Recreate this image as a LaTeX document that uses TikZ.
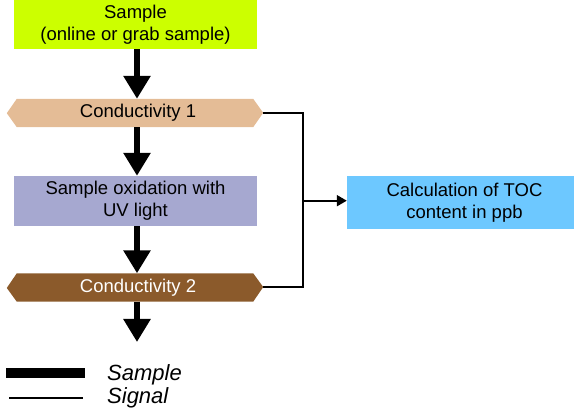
\documentclass[tikz,border=0pt]{standalone}
\usepackage{fontspec}
\setmainfont{Liberation Sans}
\usetikzlibrary{arrows.meta}
\definecolor{limec}{HTML}{CCFF00}
\definecolor{tanc}{HTML}{E4BC96}
\definecolor{lavc}{HTML}{A6A8D0}
\definecolor{brownc}{HTML}{8B5A2B}
\definecolor{skyc}{HTML}{6DC8FF}
\begin{document}
\begin{tikzpicture}[x=1pt,y=-1pt,
  boxst/.style={rectangle,inner sep=0pt,align=center,font=\fontsize{18.5}{22}\selectfont},
  flow/.style={line width=6pt,-{Triangle[width=26pt,length=23pt]}},
  sig/.style={line width=2pt},
  hexst/.style={rectangle,inner sep=0pt,minimum height=28pt,minimum width=236pt,font=\fontsize{18.5}{22}\selectfont},
  legtext/.style={anchor=base west,inner sep=0pt,font=\fontsize{22}{24}\selectfont\itshape}]
\useasboundingbox (0,0) rectangle (574,414);
% nodes
\node[boxst,fill=limec,minimum width=243pt,minimum height=49pt] (s) at (135.5,24.5) {Sample\\(online or grab sample)};
\node[hexst] (c1) at (135,113) {};
\fill[tanc] (c1.north west) -- (c1.north east) -- ++(10,14) -- (c1.south east) -- (c1.south west) -- ++(-10,-14) -- cycle;
\node[hexst,xshift=3pt] at (c1) {Conductivity 1};
\coordinate (c1r) at ([xshift=10pt]c1.east);
\node[boxst,fill=lavc,minimum width=243pt,minimum height=50pt] (uv) at (135.5,201) {Sample oxidation with\\UV light};
\node[hexst] (c2) at (135,287.5) {};
\fill[brownc] (c2.north west) -- (c2.north east) -- ++(10,13.75) -- (c2.south east) -- (c2.south west) -- ++(-10,-13.75) -- cycle;
\node[hexst,text=white,xshift=3pt] at (c2) {Conductivity 2};
\coordinate (c2r) at ([xshift=10pt]c2.east);
\coordinate (out) at (137,342);
\node[rectangle,fill=skyc,minimum width=227pt,minimum height=53pt,inner sep=0pt] (toc) at (460.5,202.5) {};
\node[boxst,xshift=4pt] at (toc) {Calculation of TOC\\content in ppb};
\coordinate (j) at (303,200.7);
% flow arrows
\draw[flow] ([xshift=1.5pt]s.south) -- ([xshift=2pt]c1.north);
\draw[flow] ([xshift=2pt]c1.south) -- ([xshift=1.5pt]uv.north);
\draw[flow] ([xshift=1.5pt]uv.south) -- ([xshift=2pt]c2.north);
\draw[flow] ([xshift=2pt]c2.south) -- (out);
% signal lines
\draw[sig] (c1r) -| (j);
\draw[sig] (c2r) -| (j);
\draw[sig,-{Triangle[width=11pt,length=10pt]}] (j) -- (j -| toc.west);
% legend
\coordinate (l1a) at (6,373); \coordinate (l1b) at (85,373);
\coordinate (l2a) at (9,398); \coordinate (l2b) at (83,398);
\draw[line width=10pt] (l1a) -- (l1b);
\draw[sig] (l2a) -- (l2b);
\node[legtext] (ls) at (107,381) {Sample};
\node[legtext] (lg) at (107,404) {Signal};
\end{tikzpicture}
\end{document}
